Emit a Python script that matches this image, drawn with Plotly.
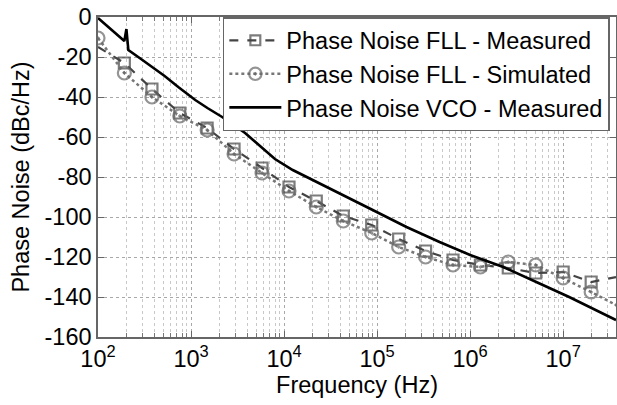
import plotly.graph_objects as go

# ---- data ----
fll_meas_f = [100, 192, 380, 757, 1490, 2900, 5800, 11300, 22200, 43300, 87500,
              170500, 332000, 655000, 1.29e6, 2.57e6, 5.07e6, 1.0e7, 2.0e7, 3.7e7]
fll_meas_db = [-15, -23, -36, -48, -55.5, -66, -75.5, -85, -92, -99.5, -104,
               -111, -117, -121.5, -124, -125.5, -128, -127.5, -132.5, -130]
fll_meas_marker = [0, 1, 1, 1, 1, 1, 1, 1, 1, 1, 1, 1, 1, 1, 1, 1, 1, 1, 1, 0]

fll_sim_f = [100, 192, 380, 757, 1490, 2900, 5800, 11300, 22200, 43300, 87500,
             170500, 332000, 655000, 1.29e6, 2.57e6, 5.07e6, 1.0e7, 2.0e7, 3.7e7]
fll_sim_db = [-10.5, -28, -40, -49.5, -56.5, -68.5, -78, -87, -95, -102, -108,
              -115, -120, -124, -125, -122.5, -124, -130.5, -137.5, -144]
fll_sim_marker = [1, 1, 1, 1, 1, 1, 1, 1, 1, 1, 1, 1, 1, 1, 1, 1, 1, 1, 1, 0]

vco_f = [100, 136, 174, 192, 202, 212, 290, 384, 520, 729, 1110, 1500, 2160, 3810,
         5520, 7980, 12400, 39700, 89700, 207000, 469000, 1.0e6, 2.27e6,
         5.14e6, 1.16e7, 3.7e7]
vco_db = [-0.5, -6, -10.5, -12, -6, -16.5, -21, -25, -29.5, -35, -41.5, -45.5, -50,
          -58, -64.5, -71, -76.5, -88.5, -96.5, -105, -112.5, -119, -125,
          -132.5, -140, -151.5]

x_tickvals = [1e2, 1e3, 1e4, 1e5, 1e6, 1e7]
x_ticktext = ["10<sup>2</sup>", "10<sup>3</sup>", "10<sup>4</sup>",
              "10<sup>5</sup>", "10<sup>6</sup>", "10<sup>7</sup>"]
y_tickvals = [0, -20, -40, -60, -80, -100, -120, -140, -160]
y_ticktext = ["0", "-20", "-40", "-60", "-80", "-100", "-120", "-140", "-160"]

names = ["Phase Noise FLL - Measured", "Phase Noise FLL - Simulated",
         "Phase Noise VCO - Measured"]

FONT = "Liberation Sans, Arial, Helvetica, sans-serif"

fig = go.Figure()
fig.add_trace(go.Scatter(
    x=fll_meas_f, y=fll_meas_db, mode="lines+markers", name=names[0],
    line=dict(color="#444444", width=2.2, dash="dash"),
    marker=dict(symbol="square-open", size=[11 * m for m in fll_meas_marker],
                color="#444444", line=dict(width=2.2, color="#444444")),
))
fig.add_trace(go.Scatter(
    x=fll_sim_f, y=fll_sim_db, mode="lines+markers", name=names[1],
    line=dict(color="#777777", width=2.5, dash="dot"),
    marker=dict(symbol="circle-open-dot", size=[13 * m for m in fll_sim_marker],
                color="#666666", line=dict(width=2.2, color="#666666")),
))
fig.add_trace(go.Scatter(
    x=vco_f, y=vco_db, mode="lines", name=names[2],
    line=dict(color="black", width=2.6),
))

fig.update_layout(
    width=617, height=405,
    margin=dict(l=98, r=1, t=17, b=68),
    paper_bgcolor="white", plot_bgcolor="white",
    font=dict(family=FONT, size=23.5, color="black"),
    showlegend=True,
    legend=dict(x=0.241, xanchor="left", y=1, yanchor="top",
                bgcolor="white", bordercolor="#666666", borderwidth=1.5,
                font=dict(size=23.5), itemwidth=52, tracegroupgap=0),
    xaxis=dict(
        type="log", range=[2, 7.568], automargin=False,
        ticklabeloverflow="allow",
        tickvals=x_tickvals, ticktext=x_ticktext,
        ticks="inside", ticklen=6, tickcolor="#666666",
        showline=True, linecolor="#666666", linewidth=1.5, mirror="ticks",
        showgrid=True, gridcolor="#a8a8a8", griddash="dot", gridwidth=1,
        zeroline=False,
        minor=dict(ticks="inside", ticklen=4, tickcolor="#777777",
                   showgrid=True, gridcolor="#c8c8c8", griddash="dot",
                   dtick="D1"),
        title=dict(text="Frequency (Hz)", font=dict(size=23.5), standoff=2),
        tickfont=dict(size=23.5),
    ),
    yaxis=dict(
        range=[-160, 0], automargin=False,
        ticklabeloverflow="allow",
        tickvals=y_tickvals, ticktext=y_ticktext,
        ticks="inside", ticklen=6, tickcolor="#666666",
        showline=True, linecolor="#666666", linewidth=1.5, mirror="ticks",
        showgrid=True, gridcolor="#a8a8a8", griddash="dot", gridwidth=1,
        zeroline=False,
        title=dict(text="Phase Noise (dBc/Hz)", font=dict(size=23.5), standoff=8),
        tickfont=dict(size=23.5),
    ),
)

# remove the browser's default 8px body margin so the figure sits at (0, 0)
fig.write_html("out.html", config={"displayModeBar": False},
               post_script="document.body.style.margin='0';")
